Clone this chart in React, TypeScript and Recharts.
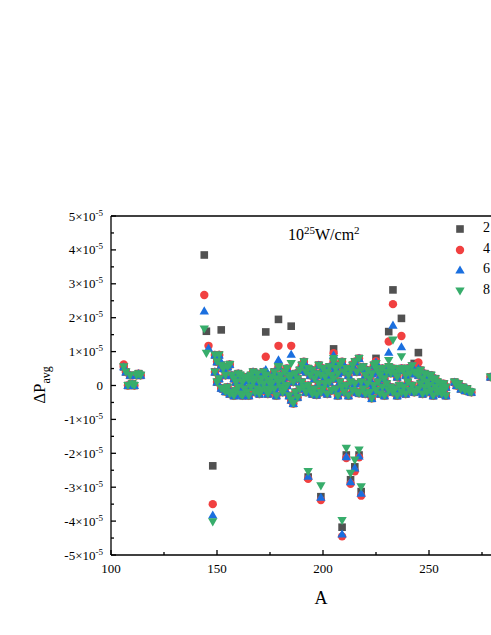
import { ReferenceLine, Scatter, ScatterChart, XAxis, YAxis } from "recharts";

// values are in units of 1e-5
const leftMass = [106, 107, 108, 109, 110, 111, 112, 113, 114];
const leftDp = [0.55, 0.4, 0.0, 0.3, 0.05, 0.0, 0.3, 0.35, 0.3];

const bandMass = [
  149, 150, 151, 152, 153, 154, 155, 156, 157, 158,
  159, 160, 161, 162, 163, 164, 165, 166, 167, 168,
  169, 170, 171, 172, 173, 174, 175, 176, 177, 178,
  179, 180, 181, 182, 183, 184, 185, 186, 187, 188,
  189, 190, 191, 192, 193, 194, 195, 196, 197, 198,
  199, 200, 201, 202, 203, 204, 205, 206, 207, 208,
  209, 210, 211, 212, 213, 214, 215, 216, 217, 218,
  219, 220, 221, 222, 223, 224, 225, 226, 227, 228,
  229, 230, 231, 232, 233, 234, 235, 236, 237, 238,
  239, 240, 241, 242, 243, 244, 245, 246, 247, 248,
  249, 250, 251, 252, 253, 254, 255, 256, 257, 258,
];
const bandUpper = [
  0.9, 0.7, 0.9, 0.6, 0.5, 0.3, 0.55, 0.62, 0.3, 0.2,
  0.1, 0.35, 0.3, 0.1, 0.2, 0.25, 0.15, 0.3, 0.4, 0.2,
  0.35, 0.1, 0.2, 0.4, 0.3, 0.15, 0.05, 0.25, 0.4, 0.2,
  0.55, 0.3, 0.16, 0.4, 0.5, 0.25, 0.3, 0.1, 0.35, 0.2,
  0.45, 0.6, 0.7, 0.4, 0.5, 0.3, 0.45, 0.2, 0.35, 0.6,
  0.3, 0.5, 0.25, 0.4, 0.55, 0.3, 0.7, 0.5, 0.35, 0.6,
  0.7, 0.4, 0.5, 0.3, 0.45, 0.6, 0.7, 0.4, 0.8, 0.5,
  0.55, 0.3, 0.45, 0.2, 0.35, 0.6, 0.5, 0.4, 0.3, 0.5,
  0.2, 0.4, 0.55, 0.36, 0.5, 0.36, 0.25, 0.45, 0.5, 0.46,
  0.3, 0.5, 0.35, 0.58, 0.4, 0.36, 0.3, 0.45, 0.2, 0.35,
  0.1, 0.3, 0.3, 0.15, 0.2, 0.1, 0.06, 0.0, 0.05, -0.05,
];
const bandLower = [
  0.4, 0.1, 0.2, -0.08, -0.1, -0.18, -0.05, -0.25, -0.2, -0.3,
  -0.15, -0.05, -0.25, -0.3, -0.1, -0.2, -0.3, -0.05, 0.1, -0.2,
  -0.1, -0.25, -0.15, 0.05, -0.1, -0.25, -0.15, 0.06, -0.1, -0.3,
  0.1, -0.05, -0.2, -0.1, 0.0, -0.3, -0.43, -0.53, -0.2, -0.35,
  -0.1, 0.1, -0.05, -0.2, 0.0, -0.15, -0.25, -0.1, -0.28, 0.05,
  -0.2, -0.1, 0.05, -0.25, 0.1, -0.15, 0.2, -0.1, -0.3, 0.1,
  -0.05, -0.2, 0.0, -0.3, 0.1, -0.15, 0.05, -0.2, -0.23, 0.1,
  -0.1, -0.25, 0.05, -0.2, -0.38, 0.0, -0.15, 0.1, -0.25, -0.05,
  -0.3, 0.05, -0.15, -0.05, -0.2, -0.1, -0.3, 0.0, -0.2, -0.05,
  -0.25, 0.1, -0.15, 0.0, -0.2, -0.18, -0.1, 0.05, -0.25, -0.05,
  -0.2, 0.0, -0.15, -0.3, -0.05, -0.2, -0.15, -0.25, -0.18, -0.3,
];

const tailMass = [262, 263, 264, 265, 266, 267, 268, 269, 270, 279];
const tailDp = [0.1, 0.0, 0.05, -0.1, -0.05, -0.15, -0.1, -0.18, -0.2, 0.25];

const mass2 = [144, 145, 148, 152, 173, 179, 185, 193, 199, 205, 209, 211, 213, 215, 217, 218, 225, 231, 233, 237, 239, 243, 245];
const dp2 = [3.85, 1.6, -2.37, 1.64, 1.58, 1.95, 1.75, -2.7, -3.28, 1.08, -4.18, -2.05, -2.78, -2.4, -2.05, -3.13, 0.8, 1.59, 2.82, 1.98, 0.5, 0.65, 0.97];

const mass4 = [106, 144, 146, 148, 151, 173, 179, 185, 193, 199, 205, 209, 211, 213, 215, 217, 218, 225, 231, 233, 237, 243, 245];
const dp4 = [0.62, 2.67, 1.17, -3.5, 0.9, 0.85, 1.17, 1.17, -2.75, -3.38, 0.95, -4.45, -2.14, -2.9, -2.53, -2.12, -3.25, 0.72, 1.3, 2.4, 1.46, 0.55, 0.68];

const mass6 = [144, 146, 148, 151, 173, 179, 185, 193, 199, 205, 209, 211, 213, 215, 217, 218, 225, 231, 233, 237, 245];
const dp6 = [2.2, 1.1, -3.82, 0.8, 0.47, 0.76, 0.92, -2.68, -3.3, 0.9, -4.38, -2.1, -2.84, -2.43, -2.08, -3.18, 0.7, 0.98, 1.78, 1.14, 0.5];

const mass8 = [144, 145, 148, 173, 179, 185, 193, 199, 205, 209, 211, 213, 215, 217, 218, 225, 231, 233, 237];
const dp8 = [1.67, 0.95, -4.02, 0.3, 0.55, 0.65, -2.54, -2.96, 0.8, -3.98, -1.85, -2.59, -2.2, -1.9, -2.99, 0.65, 0.74, 1.34, 0.85];

const xTicks = [100, 125, 150, 175, 200, 225, 250, 275];
const yTicks = [-5, -4.5, -4, -3.5, -3, -2.5, -2, -1.5, -1, -0.5, 0, 0.5, 1, 1.5, 2, 2.5, 3, 3.5, 4, 4.5, 5];
const seriesNames = ["2", "4", "6", "8"];

const C2 = "#515151";
const C4 = "#F14040";
const C6 = "#1A6FDF";
const C8 = "#37AD6B";
const FONT = '"Liberation Serif", "Times New Roman", serif';

const toPoints = (m: number[], d: number[]) => m.map((a, i) => ({ a, dp: d[i] }));

const shared = [
  ...toPoints(leftMass, leftDp),
  ...toPoints(bandMass, bandUpper),
  ...toPoints(bandMass, bandLower),
  ...toPoints(tailMass, tailDp),
];

const data2 = [...shared, ...toPoints(mass2, dp2)];
const data4 = [...shared, ...toPoints(mass4, dp4)];
const data6 = [...shared, ...toPoints(mass6, dp6)];
const data8 = [...shared, ...toPoints(mass8, dp8)];

const squareShape = (p: any) => (
  <rect x={p.cx - 3.8} y={p.cy - 3.8} width={7.6} height={7.6} fill={C2} />
);
const circleShape = (p: any) => <circle cx={p.cx} cy={p.cy} r={4.2} fill={C4} />;
const upShape = (p: any) => (
  <polygon
    points={`${p.cx},${p.cy - 4.6} ${p.cx + 4.7},${p.cy + 3.5} ${p.cx - 4.7},${p.cy + 3.5}`}
    fill={C6}
  />
);
const downShape = (p: any) => (
  <polygon
    points={`${p.cx},${p.cy + 4.6} ${p.cx + 4.7},${p.cy - 3.5} ${p.cx - 4.7},${p.cy - 3.5}`}
    fill={C8}
  />
);

function XTick({ x, y, payload }: any) {
  const major = payload.value % 50 === 0;
  return (
    <g>
      <line x1={x} x2={x} y1={y} y2={y - (major ? 5 : 3)} stroke="#000" strokeWidth={1.3} />
      {major && (
        <text x={x} y={y + 18} textAnchor="middle" fontSize={13} fontFamily={FONT} fill="#000">
          {payload.value}
        </text>
      )}
    </g>
  );
}

function YTick({ x, y, payload }: any) {
  const v = payload.value;
  const major = Number.isInteger(v);
  return (
    <g>
      <line x1={x} x2={x + (major ? 5 : 3)} y1={y} y2={y} stroke="#000" strokeWidth={1.3} />
      {major && (
        <text x={x - 8} y={y + 4.5} textAnchor="end" fontSize={13} fontFamily={FONT} fill="#000">
          {v === 0 ? (
            "0"
          ) : (
            <>
              <tspan>{`${v < 0 ? "-" : ""}${Math.abs(v)}×10`}</tspan>
              <tspan dy={-5} fontSize={9}>-5</tspan>
            </>
          )}
        </text>
      )}
    </g>
  );
}

function LegendIcon({ i }: { i: number }) {
  return (
    <svg width={12} height={12} style={{ position: "absolute", left: 0, top: 0 }}>
      {i === 0 && <rect x={2.2} y={2.2} width={7.6} height={7.6} fill={C2} />}
      {i === 1 && <circle cx={6} cy={6} r={4.2} fill={C4} />}
      {i === 2 && <polygon points="6,1.4 10.7,9.5 1.3,9.5" fill={C6} />}
      {i === 3 && <polygon points="6,10.6 10.7,2.5 1.3,2.5" fill={C8} />}
    </svg>
  );
}

export default function App() {
  return (
    <>
      <style>{"html,body{margin:0;padding:0;overflow:hidden}#root{width:491px;height:635px;overflow:hidden}"}</style>
      <div
        style={{
          position: "relative",
          left: 8,
          top: 8,
          width: 483,
          height: 610,
          overflow: "hidden",
          fontFamily: FONT,
          background: "#fff",
        }}
      >
        <ScatterChart width={560} height={600} margin={{ top: 208, right: 33, bottom: 23, left: 0 }}>
          <XAxis
            type="number"
            dataKey="a"
            domain={[100, 300]}
            ticks={xTicks}
            interval={0}
            tickSize={0}
            tickMargin={0}
            tickLine={false}
            height={30}
            axisLine={{ stroke: "#000", strokeWidth: 1.3 }}
            tick={<XTick />}
            allowDataOverflow
          />
          <YAxis
            type="number"
            dataKey="dp"
            domain={[-5, 5]}
            ticks={yTicks}
            interval={0}
            tickSize={0}
            tickMargin={0}
            tickLine={false}
            width={103}
            axisLine={{ stroke: "#000", strokeWidth: 1.3 }}
            tick={<YTick />}
            allowDataOverflow
          />
          <ReferenceLine y={5} stroke="#000" strokeWidth={1.3} />
          <Scatter data={data2} shape={squareShape} isAnimationActive={false} />
          <Scatter data={data4} shape={circleShape} isAnimationActive={false} />
          <Scatter data={data6} shape={upShape} isAnimationActive={false} />
          <Scatter data={data8} shape={downShape} isAnimationActive={false} />
        </ScatterChart>

        <div
          style={{
            position: "absolute",
            left: 280,
            top: 217,
            fontSize: 16,
            whiteSpace: "nowrap",
            lineHeight: 1,
          }}
        >
          10<sup style={{ fontSize: 11 }}>25</sup>W/cm<sup style={{ fontSize: 11 }}>2</sup>
        </div>

        {seriesNames.map((n, i) => (
          <div
            key={n}
            style={{
              position: "absolute",
              left: 446,
              top: 215 + i * 20.5,
              width: 37,
              height: 12,
              whiteSpace: "nowrap",
            }}
          >
            <LegendIcon i={i} />
            <span
              style={{
                position: "absolute",
                left: 29,
                top: -3,
                fontSize: 14,
                lineHeight: "16px",
                color: "#000",
              }}
            >
              {n}
            </span>
          </div>
        ))}

        <div
          style={{
            position: "absolute",
            left: 34,
            top: 377,
            transform: "translate(-50%, -50%) rotate(-90deg)",
            fontSize: 17,
            whiteSpace: "nowrap",
          }}
        >
          ΔP<sub style={{ fontSize: 12 }}>avg</sub>
        </div>

        <div
          style={{
            position: "absolute",
            left: 313,
            top: 580,
            transform: "translateX(-50%)",
            fontSize: 18,
          }}
        >
          A
        </div>
      </div>
    </>
  );
}
